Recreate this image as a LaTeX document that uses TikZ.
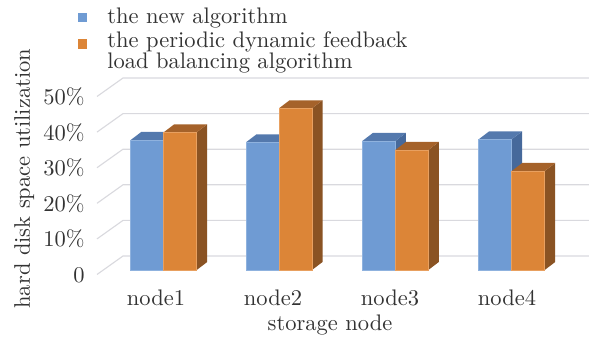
\documentclass[tikz,border=0pt]{standalone}
\begin{document}
\begin{tikzpicture}[x={(0.4444pt,0)},y={(0,-0.4444pt)},
  grid/.style={draw=gridgray,line width=0.5pt},
  lbl/.style={inner sep=0pt,font=\fontsize{10pt}{9.5pt}\selectfont,text=black!80},
  bfront/.style={fill=bluefront,draw=blueedge,line width=0.3pt},
  btop/.style={fill=bluetop},
  bside/.style={fill=blueside},
  ofront/.style={fill=orangefront,draw=orangeedge,line width=0.3pt},
  otop/.style={fill=orangetop},
  oside/.style={fill=orangeside}]
\definecolor{gridgray}{HTML}{D9D9DE}
\definecolor{bluefront}{HTML}{6F9BD3}
\definecolor{blueedge}{HTML}{8FB2DE}
\definecolor{bluetop}{HTML}{5479AD}
\definecolor{blueside}{HTML}{46699B}
\definecolor{orangefront}{HTML}{DC8537}
\definecolor{orangeedge}{HTML}{E8A060}
\definecolor{orangetop}{HTML}{A5622A}
\definecolor{orangeside}{HTML}{8A5323}
\useasboundingbox (0,0) rectangle (589,337);
% grid
\foreach \k [evaluate=\k as \yb using 256-\k*35.6,
             evaluate=\k as \yf using 274.5-\k*35.6] in {0,...,5}{
  \coordinate (gf\k) at (97,\yf);
  \coordinate (gb\k) at (123,\yb);
  \coordinate (ge\k) at (589,\yb);
  \draw[grid] (gf\k) -- (gb\k) -- (ge\k);
}
% tick labels
\foreach \k/\t in {0/0,1/10\%,2/20\%,3/30\%,4/40\%,5/50\%}{
  \node[lbl,anchor=base east] (t\k) at (85,282.5-\k*35.6) {\t};
}
% bars
\def\dx{10.5}\def\dy{-8}\def\w{33}\def\yb{270}
\foreach \i/\xs/\bt/\ot in {1/130.7/140/132.3, 2/246/142.3/108.3, 3/362.3/141/150, 4/478.7/139.3/171}{
  % blue bar
  \fill[bside] (\xs+\w,\yb) -- (\xs+\w+\dx,\yb+\dy) -- (\xs+\w+\dx,\bt+\dy) -- (\xs+\w,\bt) -- cycle;
  \fill[btop] (\xs,\bt) -- (\xs+\dx,\bt+\dy) -- (\xs+\w+\dx,\bt+\dy) -- (\xs+\w,\bt) -- cycle;
  \draw[bfront] (\xs,\yb) rectangle (\xs+\w,\bt);
  % orange bar
  \fill[oside] (\xs+2*\w,\yb) -- (\xs+2*\w+\dx,\yb+\dy) -- (\xs+2*\w+\dx,\ot+\dy) -- (\xs+2*\w,\ot) -- cycle;
  \fill[otop] (\xs+\w,\ot) -- (\xs+\w+\dx,\ot+\dy) -- (\xs+2*\w+\dx,\ot+\dy) -- (\xs+2*\w,\ot) -- cycle;
  \draw[ofront] (\xs+\w,\yb) rectangle (\xs+2*\w,\ot);
}
% category labels
\node[lbl,anchor=base] (c1) at (156,305) {node1};
\node[lbl,anchor=base] (c2) at (273,305) {node2};
\node[lbl,anchor=base] (c3) at (390,305) {node3};
\node[lbl,anchor=base] (c4) at (507,305) {node4};
\node[lbl,anchor=base] (xt) at (330,330) {storage node};
\node[lbl,anchor=base west,rotate=90] (yt) at (30,309) {hard disk space utilization};
% legend
\fill[bluefront] (78,12.7) rectangle (87,22) coordinate (lb);
\fill[orangefront] (78,39.3) rectangle (87,48.7) coordinate (lo);
\node[lbl,anchor=base west] (l1) at (107,23.3) {the new algorithm};
\node[lbl,anchor=base west,align=left] (l2) at (107,69) {the periodic dynamic feedback\\load balancing algorithm};
\end{tikzpicture}
\end{document}
